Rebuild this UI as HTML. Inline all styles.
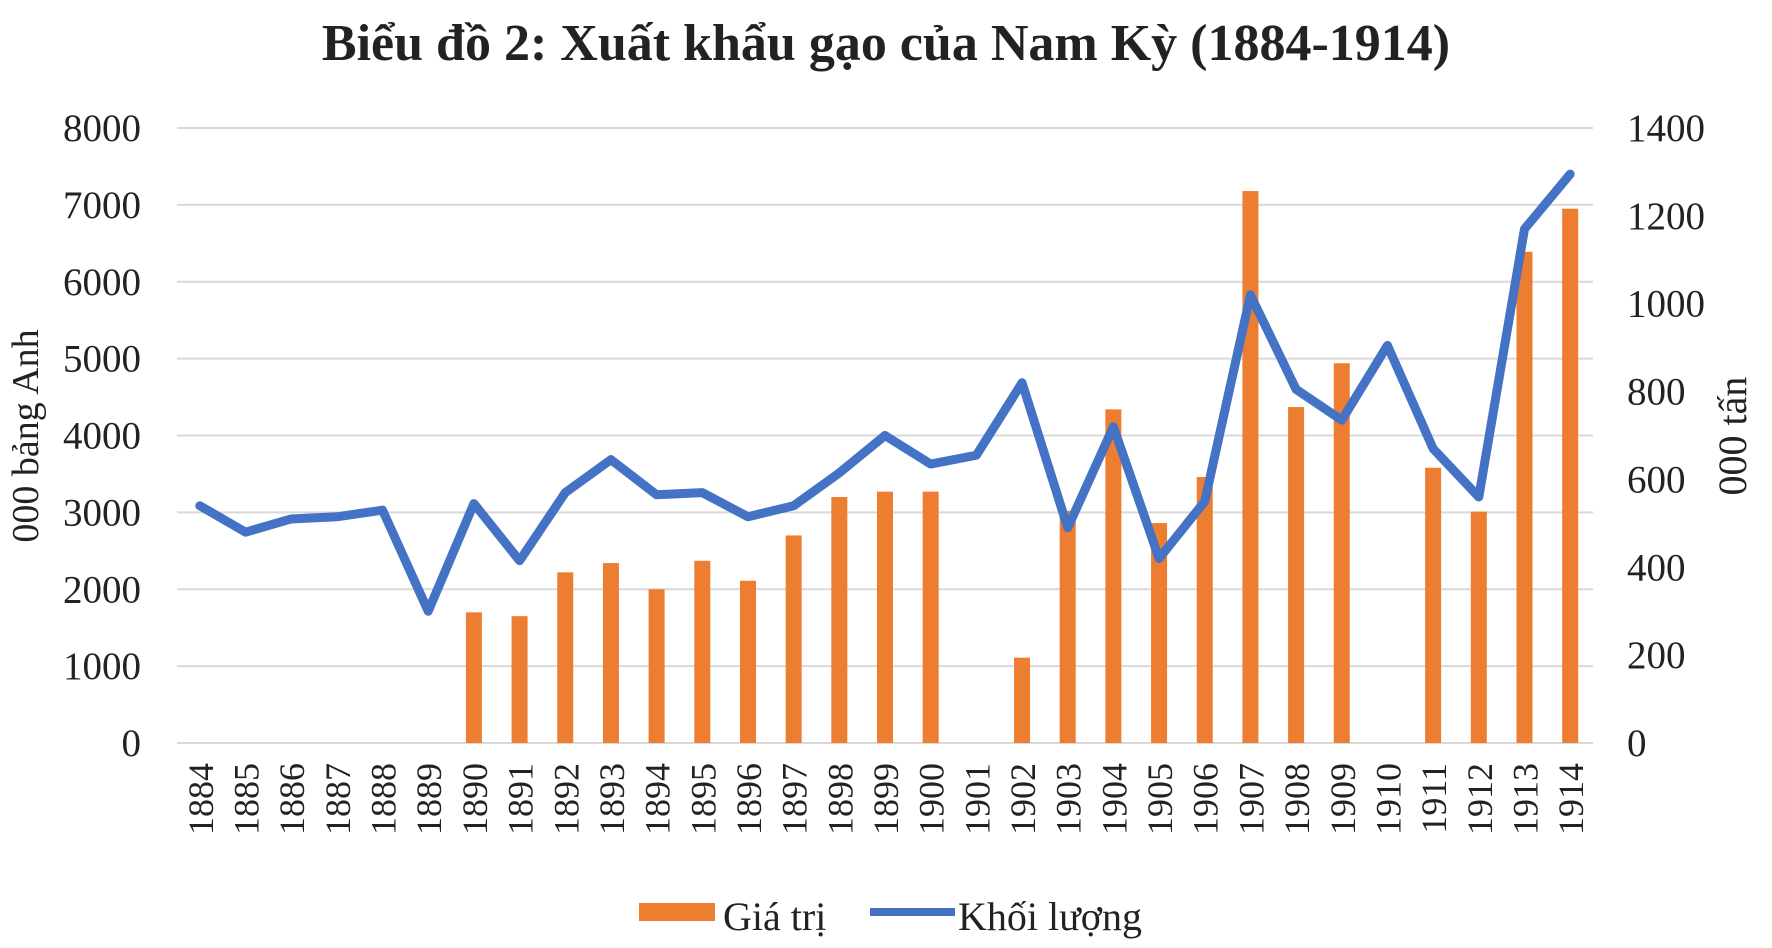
<!DOCTYPE html>
<html><head><meta charset="utf-8"><style>
html,body{margin:0;padding:0;background:#fff;}
svg text{font-family:"Liberation Serif",serif;fill:#222;}
</style></head><body>
<svg id="chart" width="1772" height="943" viewBox="0 0 1772 943" xmlns="http://www.w3.org/2000/svg">
<text x="886" y="60" text-anchor="middle" font-size="52" font-weight="bold">Biểu đồ 2: Xuất khẩu gạo của Nam Kỳ (1884-1914)</text>
<g id="grid"></g><g id="bars"></g><g id="line"></g><g id="axes"></g>
<text transform="translate(38,436) rotate(-90)" text-anchor="middle" font-size="38">000 bảng Anh</text>
<text transform="translate(1746,436) rotate(-90)" text-anchor="middle" font-size="40">000 tấn</text>
<g>
<rect x="639" y="903" width="76" height="18" fill="#ED7D31"/>
<text x="723" y="930" font-size="40">Giá trị</text>
<line x1="870" y1="912" x2="955" y2="912" stroke="#4472C4" stroke-width="8"/>
<text x="958" y="930" font-size="40">Khối lượng</text>
</g>
</svg>
<script>
const years=[1884,1885,1886,1887,1888,1889,1890,1891,1892,1893,1894,1895,1896,1897,1898,1899,1900,1901,1902,1903,1904,1905,1906,1907,1908,1909,1910,1911,1912,1913,1914];
const valueSeries=[null,null,null,null,null,null,1700,1650,2220,2340,2000,2370,2110,2700,3200,3270,3270,null,1110,3020,4340,2860,3460,7180,4370,4940,null,3580,3010,6390,6950];
const volumeSeries=[540,480,510,515,530,300,545,415,570,645,565,570,515,540,615,700,635,655,820,490,720,420,550,1020,805,735,905,670,560,1170,1295];
const leftTicks=[0,1000,2000,3000,4000,5000,6000,7000,8000];
const rightTicks=[0,200,400,600,800,1000,1200,1400];
const NS="http://www.w3.org/2000/svg";
const X0=177,X1=1593,Y0=743,Y1=128;
const band=(X1-X0)/years.length;
const xc=i=>X0+band*(i+0.5);
const yL=v=>Y0-(v/8000)*(Y0-Y1);
const yR=v=>Y0-(v/1400)*(Y0-Y1);
function mk(tag,attrs,parent,txt){const e=document.createElementNS(NS,tag);for(const k in attrs)e.setAttribute(k,attrs[k]);if(txt!==undefined)e.textContent=txt;parent.appendChild(e);return e;}
const grid=document.getElementById('grid'),axes=document.getElementById('axes');
leftTicks.forEach(t=>{
 const l=mk('line',{x1:X0,x2:X1,y1:yL(t),y2:yL(t),stroke:'#d9d9d9','stroke-width':2},grid);
 
 
 const tx=mk('text',{x:141,y:yL(t)+13,'text-anchor':'end','font-size':39},axes,String(t));
 
 
});
rightTicks.forEach(t=>{
 const tx=mk('text',{x:1627,y:yR(t)+13,'text-anchor':'start','font-size':39},axes,String(t));
 
 
});
years.forEach((y,i)=>{
 const tx=mk('text',{transform:`translate(${xc(i)+13},763) rotate(-90)`,'text-anchor':'end','font-size':36},axes,String(y));
 
 
});
const bars=document.getElementById('bars');
valueSeries.forEach((v,i)=>{
 if(v==null)return;
 const r=mk('rect',{x:xc(i)-8,y:yL(v),width:16,height:Y0-yL(v),fill:'#ED7D31'},bars);
 
 
});
const pts=volumeSeries.map((v,i)=>xc(i)+','+yR(v)).join(' ');
const pl=mk('polyline',{points:pts,fill:'none',stroke:'#4472C4','stroke-width':9,'stroke-linejoin':'round','stroke-linecap':'round'},document.getElementById('line'));


</script>
</body></html>
